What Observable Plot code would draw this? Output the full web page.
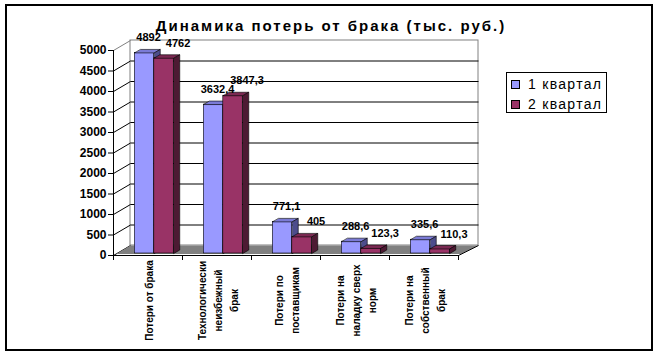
<!DOCTYPE html>
<html><head><meta charset="utf-8">
<script src="https://cdn.jsdelivr.net/npm/d3@7"></script>
<script src="https://cdn.jsdelivr.net/npm/@observablehq/plot@0.6"></script>
<style>
body{margin:0;background:#fff;}
#wrap{position:relative;width:662px;height:361px;overflow:hidden;font-family:"Liberation Sans",Arial,sans-serif;background:#fff;}
#wrap svg{position:absolute;left:0;top:0;}
#border{position:absolute;left:5px;top:4px;width:644px;height:343px;border:2px solid #000;pointer-events:none;}
#title{position:absolute;left:0;width:662px;top:17px;text-align:center;font-weight:bold;font-size:15px;letter-spacing:2px;color:#000;}
#legend{position:absolute;left:506px;top:72px;width:99px;height:39px;border:1px solid #000;font-size:14px;letter-spacing:1.3px;}
.item{position:absolute;left:4px;height:16px;line-height:16px;white-space:nowrap;}
.sw{display:inline-block;width:7px;height:7px;border:1px solid #000;margin-right:8px;vertical-align:0px;}
g[aria-label="values"] text{letter-spacing:0.8px;}
</style></head>
<body>
<div id="wrap"><div id="title">Динамика потерь от брака (тыс. руб.)</div><div id="legend"></div><div id="border"></div></div>
<script>
// ---- data ----
const categoryLabels = ["Потери от брака", "Технологически\nнеизбежный\nбрак", "Потери по\nпоставщикам", "Потери на\nналадку сверх\nнорм", "Потери на\nсобственный\nбрак"];
const series = ["1 квартал", "2 квартал"];
const q1 = [4892, 3632.4, 771.1, 288.6, 335.6];
const q2 = [4762, 3847.3, 405, 123.3, 110.3];
const yTicks = [0, 500, 1000, 1500, 2000, 2500, 3000, 3500, 4000, 4500, 5000];
const frontColors = ["#9999FF", "#993366"];
const topColors = ["#7B7BD6", "#7A2952"];
const sideColors = ["#4D4D8C", "#4D1A33"];

// ---- layout ----
const W = 662, H = 361, ML = 113, MR = 204, MT = 50, MB = 106;
const nCat = categoryLabels.length;
const xPx = (W - ML - MR) / nCat;          // px per category unit
const yPx = (H - MT - MB) / 5000;          // px per value unit
const dX = 17 / xPx, dY = 10 / yPx;        // 3D depth in data units
const ext = 3 / xPx;
const f0 = 0.2, f1 = 0.55;                 // bar front/back depth fractions
const fFloor = 0.15;
const barLeft = 17.9 / xPx, barW = 19.5 / xPx;
const fmt = v => String(v).replace(".", ",");

const bars = [];
[q1, q2].forEach((vals, s) => vals.forEach((v, i) => bars.push({
  i, s, series: series[s], v, label: fmt(v),
  x1: i + barLeft + s * barW, x2: i + barLeft + (s + 1) * barW
})));

function tops(s) {
  return bars.filter(b => b.s === s).flatMap(b => [
    {id: b.i, x: b.x1 + f0 * dX, y: b.v + f0 * dY},
    {id: b.i, x: b.x2 + f0 * dX, y: b.v + f0 * dY},
    {id: b.i, x: b.x2 + f1 * dX, y: b.v + f1 * dY},
    {id: b.i, x: b.x1 + f1 * dX, y: b.v + f1 * dY}
  ]);
}
function sides(s) {
  return bars.filter(b => b.s === s).flatMap(b => [
    {id: b.i, x: b.x2 + f0 * dX, y: f0 * dY},
    {id: b.i, x: b.x2 + f1 * dX, y: f1 * dY},
    {id: b.i, x: b.x2 + f1 * dX, y: b.v + f1 * dY},
    {id: b.i, x: b.x2 + f0 * dX, y: b.v + f0 * dY}
  ]);
}
const floor = [
  {x: fFloor * dX, y: fFloor * dY}, {x: nCat + fFloor * dX, y: fFloor * dY},
  {x: nCat + dX + ext, y: dY}, {x: dX, y: dY}
];
const seps = d3.range(nCat + 1);
const gridVals = yTicks.filter(t => t > 0 && t < 5000);

const barMarks = [0, 1].flatMap(s => [
  Plot.rect(bars.filter(b => b.s === s), {x1: b => b.x1 + f0 * dX, x2: b => b.x2 + f0 * dX, y1: f0 * dY, y2: b => b.v + f0 * dY, fill: "series", stroke: "#000", strokeWidth: 0.6}),
  Plot.line(tops(s), {x: "x", y: "y", z: "id", curve: "linear-closed", fill: topColors[s], stroke: "#000", strokeWidth: 0.6}),
  Plot.line(sides(s), {x: "x", y: "y", z: "id", curve: "linear-closed", fill: sideColors[s], stroke: "#000", strokeWidth: 0.6})
]);

const plot = Plot.plot({
  width: W, height: H, marginLeft: ML, marginRight: MR, marginTop: MT, marginBottom: MB,
  style: {fontFamily: "'Liberation Sans', Arial, sans-serif", fontSize: "11px", background: "transparent", color: "#000"},
  x: {domain: [0, nCat], label: null},
  y: {domain: [0, 5000], label: null},
  color: {domain: series, range: frontColors},
  marks: [
    Plot.rect([0], {x1: dX, x2: nCat + dX + ext, y1: dY, y2: 5000 + dY, fill: "#fff", stroke: "#808080", strokeWidth: 1}),
    Plot.link(gridVals, {x1: dX, x2: nCat + dX + ext, y1: t => t + dY, y2: t => t + dY, stroke: "#000", strokeWidth: 1}),
    Plot.link(yTicks.filter(t => t < 5000), {x1: 0, x2: dX, y1: t => t, y2: t => t + dY, stroke: "#000", strokeWidth: 1}),
    Plot.link([5000], {x1: 0, x2: dX, y1: t => t, y2: t => t + dY, stroke: "#808080", strokeWidth: 1}),
    Plot.line(floor, {x: "x", y: "y", curve: "linear-closed", fill: "#808080", stroke: "none"}),
    Plot.link([0], {x1: nCat, x2: nCat + dX + ext, y1: 0, y2: dY, stroke: "#000", strokeWidth: 1}),
    Plot.ruleY([0], {x1: 0, x2: nCat, stroke: "#000"}),
    Plot.axisX({ticks: seps, tickSize: 5, tickFormat: () => "", label: null, stroke: "#000"}),
    Plot.ruleX([0], {y1: 0, y2: 5000, stroke: "#000"}),
    Plot.axisY({ticks: yTicks, tickSize: 5, tickPadding: 2, fontWeight: "bold", fontSize: 12, label: null, tickFormat: d => String(d), stroke: "#000"}),
    ...barMarks,
    Plot.text(bars, {x: b => (b.x1 + b.x2) / 2 + f0 * dX + (b.s === 0 ? 4 : 14) / xPx, y: "v", dy: -17, text: "label", fontWeight: "bold", fontSize: 11, fill: "#000", ariaLabel: "values"}),
    Plot.text(categoryLabels, {x: (d, i) => i + 0.5, frameAnchor: "bottom", dy: 45, rotate: -90, textAnchor: "middle", lineAnchor: "middle", lineHeight: 1.6, fontSize: 10, fontWeight: "bold", fill: "#000"})
  ]
});

const wrap = document.getElementById("wrap");
wrap.insertBefore(plot, wrap.firstChild);

const color = plot.scale("color");
const legend = document.getElementById("legend");
series.forEach((s, k) => {
  const it = document.createElement("div");
  it.className = "item";
  it.style.top = (3 + k * 20) + "px";
  it.innerHTML = `<span class="sw" style="background:${color.apply(s)}"></span>${s}`;
  legend.appendChild(it);
});
</script>
</body></html>
